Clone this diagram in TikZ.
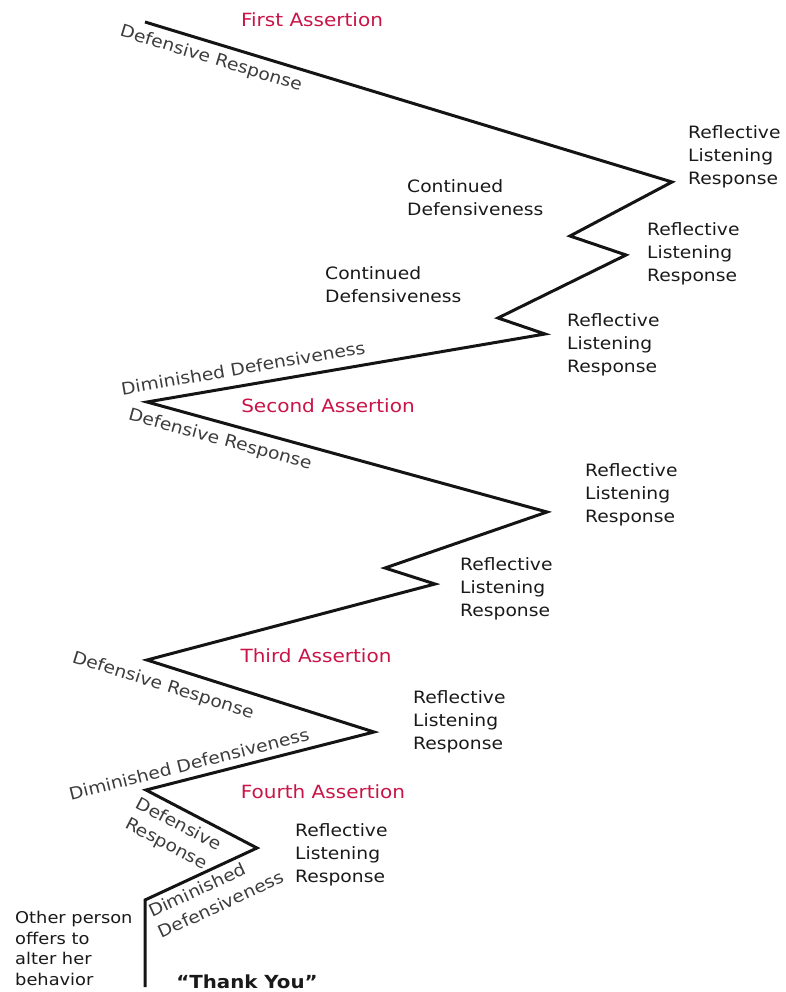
\documentclass[tikz,border=0pt]{standalone}
\usepackage{fontspec}
\setmainfont{DejaVu Sans}[FakeStretch=1.1]
\definecolor{red1}{RGB}{200,20,70}
\definecolor{txt}{RGB}{25,25,25}
\definecolor{gtxt}{RGB}{60,60,60}
\definecolor{ln}{RGB}{20,20,20}
\begin{document}
\begin{tikzpicture}[x=1pt,y=-1pt,
  base/.style={font=\fontsize{17}{23}\selectfont, inner sep=0pt},
  blk/.style={base, text=txt, align=left, anchor=north west},
  assert/.style={base, font=\fontsize{18.2}{23}\selectfont, text=red1, anchor=center},
  along/.style={base, text=gtxt, align=left, anchor=center},
  zig/.style={draw=ln, line width=3pt, line join=miter, line cap=butt}]
\useasboundingbox (0,0) rectangle (786,992);
% vertices
\coordinate (p1) at (145,22);
\coordinate (p2) at (672,182);
\coordinate (p3) at (570,236);
\coordinate (p4) at (626,255);
\coordinate (p5) at (498,318);
\coordinate (p6) at (545,334);
\coordinate (p7) at (147,402);
\coordinate (p8) at (547,512);
\coordinate (p9) at (385,568);
\coordinate (p10) at (435,584);
\coordinate (p11) at (147,660);
\coordinate (p12) at (374,732);
\coordinate (p13) at (146,790);
\coordinate (p14) at (257,848);
\coordinate (p15) at (145,900);
\coordinate (p16) at (145,987);
\draw[zig] (p1) -- (p2) -- (p3) -- (p4) -- (p5) -- (p6) -- (p7) -- (p8) -- (p9) -- (p10) -- (p11) -- (p12) -- (p13) -- (p14) -- (p15) -- (p16);
% assertions
\node[assert] (a1) at (312,20) {First Assertion};
\node[assert] (a2) at (328,406) {Second Assertion};
\node[assert] (a3) at (316,656) {Third Assertion};
\node[assert] (a4) at (323,792) {Fourth Assertion};
% blocks
\node[blk] (r1) at (688,125) {Reflective\\Listening\\Response};
\node[blk] (c1) at (407,179) {Continued\\Defensiveness};
\node[blk] (r2) at (647,222) {Reflective\\Listening\\Response};
\node[blk] (c2) at (325,266) {Continued\\Defensiveness};
\node[blk] (r3) at (567,313) {Reflective\\Listening\\Response};
\node[blk] (r4) at (585,463) {Reflective\\Listening\\Response};
\node[blk] (r5) at (460,557) {Reflective\\Listening\\Response};
\node[blk] (r6) at (413,690) {Reflective\\Listening\\Response};
\node[blk] (r7) at (295,823) {Reflective\\Listening\\Response};
\node[blk, font=\fontsize{16.2}{20.5}\selectfont] (op) at (15,911) {Other person\\offers to\\alter her\\behavior};
\node[base, text=txt, font=\fontsize{18}{23}\selectfont\bfseries] (ty) at (247,982) {“Thank You”};
% sloped labels
\node[along, rotate=-16.9] (d1) at (211,59) {Defensive Response};
\node[along, rotate=9.7] (dd1) at (243,368) {Diminished Defensiveness};
\node[along, rotate=-15.3] (d2) at (220,440) {Defensive Response};
\node[along, rotate=-17.4] (d3) at (163,686) {Defensive Response};
\node[along, rotate=14.2] (dd2) at (189,764) {Diminished Defensiveness};
\node[along, font=\fontsize{17}{23}\selectfont, rotate=-27.6] (d4) at (173,835) {Defensive\\Response};
\node[along, font=\fontsize{17}{23}\selectfont, rotate=24.9] (dd3) at (216,894) {Diminished\\Defensiveness};
\end{tikzpicture}
\end{document}
